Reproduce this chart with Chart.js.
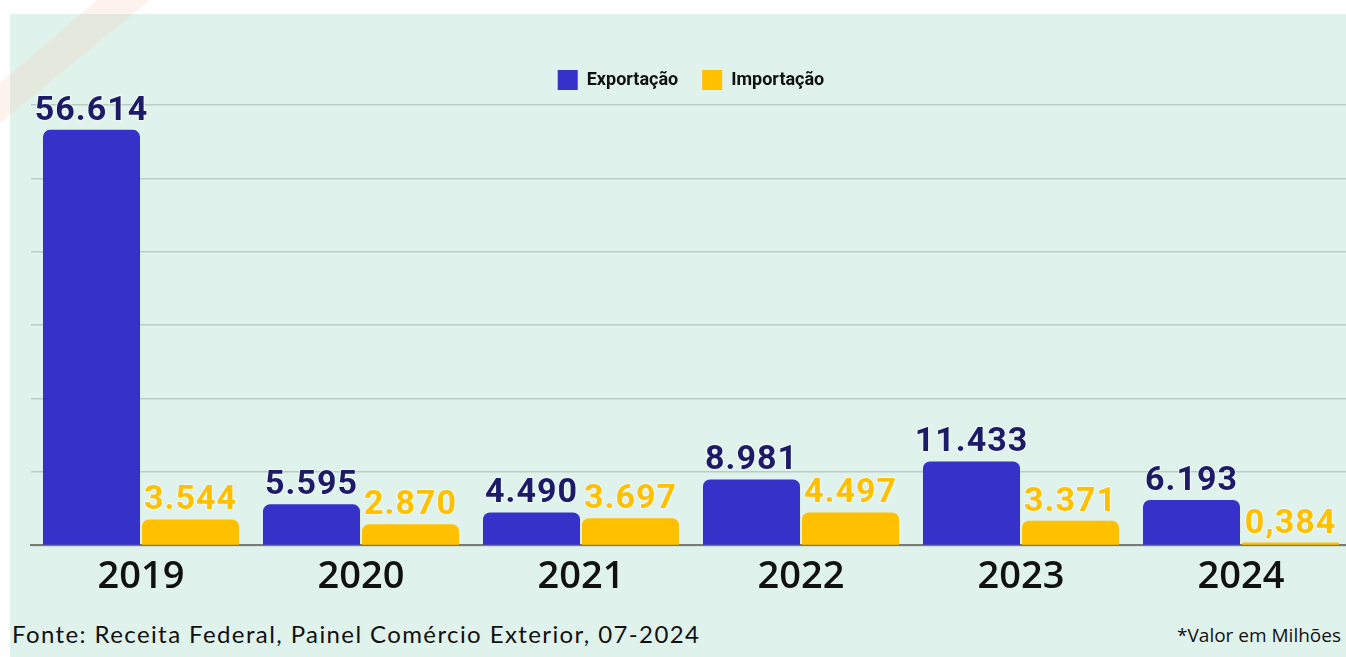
<!DOCTYPE html>
<html>
<head>
<meta charset="utf-8">
<script src="https://cdn.jsdelivr.net/npm/chart.js@4.4.1/dist/chart.umd.min.js"></script>
<style>
    html, body { margin: 0; padding: 0; background: #ffffff; overflow: hidden; }
    body { width: 1346px; height: 657px; position: relative; }
    .panel { position: absolute; left: 10px; top: 14px; right: 0; bottom: 0; background: #e0f2ec; }
    .stripe { position: absolute; left: 0; top: 0; }
    .chart-box { position: absolute; left: 0; top: 0; width: 1360px; height: 610px; }
    .source { position: absolute; left: 12px; top: 619px; font: 24px Lato, sans-serif; letter-spacing: 1.4px; color: #111; white-space: nowrap; }
    .unit { position: absolute; right: 5px; top: 622px; font: 19px "Open Sans", sans-serif; color: #111; white-space: nowrap; }
</style>
</head>
<body>
<div class="panel"></div>
<svg class="stripe" width="200" height="150">
    <polygon points="97,0 150,0 0,123 0,83" fill="rgb(245,200,170)" fill-opacity="0.22"></polygon>
</svg>
<div class="chart-box"><canvas id="trade"></canvas></div>
<div class="source">Fonte: Receita Federal, Painel Comércio Exterior, 07-2024</div>
<div class="unit">*Valor em Milhões</div>

<script>
const years = ['2019', '2020', '2021', '2022', '2023', '2024'];
const exportacao = [56.614, 5.595, 4.490, 8.981, 11.433, 6.193];
const importacao = [3.544, 2.870, 3.697, 4.497, 3.371, 0.384];
const yTicks = [0, 10, 20, 30, 40, 50, 60];

const labelColors = ['#1d1b68', '#ffc000'];

// 56.614 style, but 0,384 under one million as in the source
function fmt(v) {
    const s = v.toFixed(3);
    return v < 1 ? s.replace('.', ',') : s;
}

const valueLabels = {
    id: 'valueLabels',
    afterDatasetsDraw(chart) {
        const ctx = chart.ctx;
        chart.data.datasets.forEach((ds, i) => {
            const meta = chart.getDatasetMeta(i);
            meta.data.forEach((bar, j) => {
                ctx.save();
                ctx.font = 'bold 34px Roboto, sans-serif';
                ctx.letterSpacing = '1px';
                ctx.textAlign = 'center';
                ctx.textBaseline = 'alphabetic';
                ctx.lineWidth = 2;
                ctx.strokeStyle = 'rgba(255,255,255,0.5)';
                const text = fmt(ds.data[j]);
                ctx.strokeText(text, bar.x, bar.y - 10);
                ctx.fillStyle = labelColors[i];
                ctx.fillText(text, bar.x, bar.y - 10);
                ctx.restore();
            });
        });
    }
};

// a bit more room between legend and plot
const legendMargin = {
    id: 'legendMargin',
    beforeInit(chart) {
        const fit = chart.legend.fit;
        chart.legend.fit = function () {
            fit.bind(chart.legend)();
            this.height += 5;
        };
    }
};

const ctx1 = document.getElementById('trade').getContext('2d');
const chart1 = new Chart(ctx1, {
    type: 'bar',
    data: {
        labels: years,
        datasets: [{
            label: 'Exportação',
            data: exportacao,
            backgroundColor: '#3631c9',
            borderRadius: 7,
            borderSkipped: 'bottom',
            categoryPercentage: 0.9,
            barPercentage: 0.98
        }, {
            label: 'Importação',
            data: importacao,
            backgroundColor: '#ffc000',
            borderRadius: 7,
            borderSkipped: 'bottom',
            categoryPercentage: 0.9,
            barPercentage: 0.98
        }]
    },
    options: {
        responsive: true,
        maintainAspectRatio: false,
        animation: false,
        layout: {
            padding: { left: 31, right: 9, top: 46, bottom: 1 }
        },
        scales: {
            x: {
                grid: { display: false, drawTicks: false },
                border: { display: true, color: '#7a7a7a', width: 2 },
                ticks: {
                    color: '#111111',
                    padding: 9,
                    font: { family: 'Open Sans', size: 38, weight: '600' }
                }
            },
            y: {
                min: 0,
                max: 60,
                afterBuildTicks: scale => {
                    scale.ticks = yTicks.map(v => ({ value: v }));
                },
                grid: {
                    color: '#b9cdc5',
                    lineWidth: 1.5,
                    drawTicks: false
                },
                border: { display: false },
                ticks: { display: false }
            }
        },
        plugins: {
            legend: {
                position: 'top',
                labels: {
                    boxWidth: 20,
                    boxHeight: 20,
                    padding: 24,
                    color: '#111111',
                    font: { family: 'Roboto', size: 18, weight: 'bold' }
                }
            },
            tooltip: { enabled: false }
        }
    },
    plugins: [valueLabels, legendMargin]
});
</script>
</body>
</html>
